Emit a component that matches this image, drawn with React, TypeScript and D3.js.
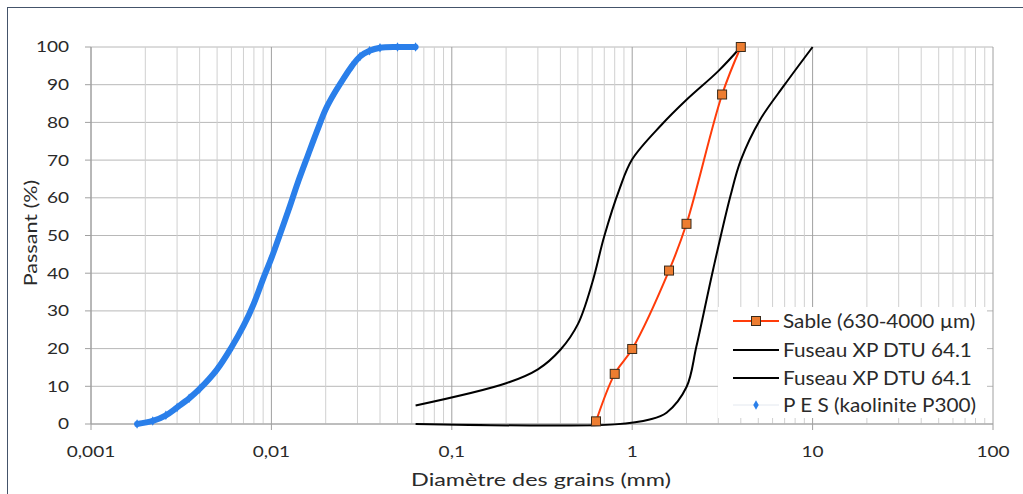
import React from "react";
import * as d3 from "d3";

// ---------- data ----------
const sableD = [0.63, 0.8, 1.0, 1.6, 2.0, 3.15, 4.0];
const sableP = [0.7, 13.3, 19.9, 40.7, 53.1, 87.4, 100];

const fuseauFinD = [0.063, 0.2, 0.3, 0.4, 0.5, 0.6, 0.7, 0.85, 1.0, 1.45, 2.0, 3.0, 4.0];
const fuseauFinP = [4.9, 10.8, 14.5, 19.7, 26.5, 37.4, 49.8, 62.3, 70.2, 79.3, 86, 93.6, 100];

const fuseauGrosD = [0.063, 0.3, 0.8, 1.25, 1.55, 2.0, 2.27, 2.81, 3.5, 4.0, 5.1, 7.0, 10];
const fuseauGrosP = [0, -0.4, -0.1, 1.2, 3, 9.8, 20.6, 41, 60.4, 70, 80.6, 90, 100];

const pesD = [0.0018, 0.0022, 0.0026, 0.003, 0.0035, 0.004, 0.005, 0.006, 0.007, 0.008, 0.009, 0.01, 0.011, 0.0125, 0.014, 0.016, 0.018, 0.02, 0.0225, 0.025, 0.028, 0.031, 0.035, 0.04, 0.05, 0.063];
const pesP = [0, 0.8, 2.3, 4.4, 6.8, 9.3, 14.5, 20.3, 26, 32, 38.5, 44, 49.5, 57, 64, 71.5, 78, 83.5, 88, 91.5, 95, 97.5, 99, 99.8, 100, 100];

const xTickValues = [0.001, 0.01, 0.1, 1, 10, 100];
const xTickLabels = ["0,001", "0,01", "0,1", "1", "10", "100"];
const yTickValues = [0, 10, 20, 30, 40, 50, 60, 70, 80, 90, 100];

const legendLabels = ["Sable (630-4000 µm)", "Fuseau XP DTU 64.1", "Fuseau XP DTU 64.1", "P E S (kaolinite P300)"];

const xTitle = "Diamètre des grains (mm)";
const yTitle = "Passant (%)";

// ---------- styles ----------
const FONT = "Lato, 'Open Sans', sans-serif";
const TEXT = "#2a2a2a";
const ORANGE_LINE = "#FF3C0A";
const ORANGE_FILL = "#ED7D31";
const BLUE = "#2A7FEA";

function SText(props: { x: number; y: number; sx: number; size: number; anchor?: string; rotate?: number; children: React.ReactNode }) {
  const { x, y, sx, size, anchor = "start", rotate = 0, children } = props;
  return (
    <g transform={`translate(${x},${y}) rotate(${rotate}) scale(${sx},1)`}>
      <text x={0} y={0} dy="0.36em" textAnchor={anchor} fontSize={size} fill={TEXT}>{children}</text>
    </g>
  );
}

export default function App() {
  const W = 1023, H = 494;
  const x = d3.scaleLog().domain([0.001, 100]).range([91, 993]);
  const y = d3.scaleLinear().domain([0, 100]).range([424, 47]);

  const minorTicks: number[] = [];
  for (let e = -3; e < 2; e++) {
    for (let m = 2; m <= 9; m++) minorTicks.push(m * Math.pow(10, e));
  }

  const zip = (a: number[], b: number[]) => a.map((v, i) => [v, b[i]] as [number, number]);
  const lineCR = d3.line<[number, number]>().x(d => x(d[0])).y(d => y(d[1])).curve(d3.curveCatmullRom.alpha(0.5));

  const sable = zip(sableD, sableP);
  const fin = zip(fuseauFinD, fuseauFinP);
  const gros = zip(fuseauGrosD, fuseauGrosP);
  const pes = zip(pesD, pesP);

  const diamond = d3.symbol().type(d3.symbolDiamond).size(26)() as string;

  const lg = { x0: 718, y0: 307, x1: 987, y1: 418 };
  const rowY = [321, 350, 378, 405];

  return (
    <svg width={W} height={H} style={{ position: "absolute", left: 0, top: 0, background: "#fff" }} fontFamily={FONT}>
      <rect x={0} y={0} width={W} height={H} fill="#fff" />
      <rect x={7.5} y={7.5} width={W + 20} height={H + 20} fill="none" stroke="#44546A" strokeWidth={1} />

      {/* horizontal gridlines */}
      {yTickValues.map(v => (
        <line key={"h" + v} x1={91} x2={993} y1={y(v)} y2={y(v)} stroke="#B8B8B8" strokeWidth={1} />
      ))}
      {/* minor vertical gridlines */}
      {minorTicks.map(v => (
        <line key={"m" + v} x1={x(v)} x2={x(v)} y1={y(100)} y2={y(0)} stroke="#D0D0D0" strokeWidth={1} />
      ))}
      {/* major vertical gridlines */}
      {xTickValues.map(v => (
        <line key={"M" + v} x1={x(v)} x2={x(v)} y1={y(100)} y2={y(0) + 6} stroke="#A0A0A0" strokeWidth={1} />
      ))}

      {/* y axis ticks */}
      {yTickValues.map(v => (
        <line key={"yt" + v} x1={85} x2={91} y1={y(v)} y2={y(v)} stroke="#A0A0A0" strokeWidth={1} />
      ))}
      <line x1={91} x2={91} y1={y(100)} y2={y(0)} stroke="#A0A0A0" />
      <line x1={91} x2={993} y1={y(0)} y2={y(0)} stroke="#A0A0A0" />

      {/* series */}
      <path d={lineCR(fin) || ""} fill="none" stroke="#000" strokeWidth={2} />
      <path d={lineCR(gros) || ""} fill="none" stroke="#000" strokeWidth={2} />
      <path d={lineCR(pes) || ""} fill="none" stroke={BLUE} strokeWidth={6} strokeLinecap="round" />
      {pes.map((d, i) => (
        <path key={"pd" + i} d={diamond} transform={`translate(${x(d[0])},${y(d[1])})`} fill={BLUE} />
      ))}
      <path d={lineCR(sable) || ""} fill="none" stroke={ORANGE_LINE} strokeWidth={2} />
      {sable.map((d, i) => (
        <rect key={"s" + i} x={x(d[0]) - 4.5} y={y(d[1]) - 4.5} width={9} height={9} fill={ORANGE_FILL} stroke="#3A2A1A" strokeWidth={1} />
      ))}

      {/* legend */}
      <rect x={lg.x0} y={lg.y0} width={lg.x1 - lg.x0} height={lg.y1 - lg.y0} fill="#fff" />
      {[0, 1, 2, 3].map(i => {
        const ry = rowY[i];
        const stroke = i === 0 ? ORANGE_LINE : i === 3 ? "#E3E8EF" : "#000";
        return (
          <g key={"lg" + i}>
            <line x1={733} x2={779} y1={ry} y2={ry} stroke={stroke} strokeWidth={i === 3 ? 1 : 2} />
            {i === 0 && <rect x={751.5} y={ry - 4.5} width={9} height={9} fill={ORANGE_FILL} stroke="#3A2A1A" />}
            {i === 3 && <path d={diamond} transform={`translate(756,${ry})`} fill={BLUE} />}
            <SText x={783} y={ry} sx={1.12} size={18.5}>{legendLabels[i]}</SText>
          </g>
        );
      })}

      {/* tick labels */}
      {yTickValues.map(v => (
        <SText key={"yl" + v} x={69} y={y(v)} sx={1.27} size={15} anchor="end">{v}</SText>
      ))}
      {xTickValues.map((v, i) => (
        <SText key={"xl" + v} x={x(v)} y={452} sx={1.27} size={15} anchor="middle">{xTickLabels[i]}</SText>
      ))}

      {/* titles */}
      <SText x={541} y={480} sx={1.3} size={18} anchor="middle">{xTitle}</SText>
      <SText x={31} y={233} sx={1.27} size={17} anchor="middle" rotate={-90}>{yTitle}</SText>
    </svg>
  );
}
